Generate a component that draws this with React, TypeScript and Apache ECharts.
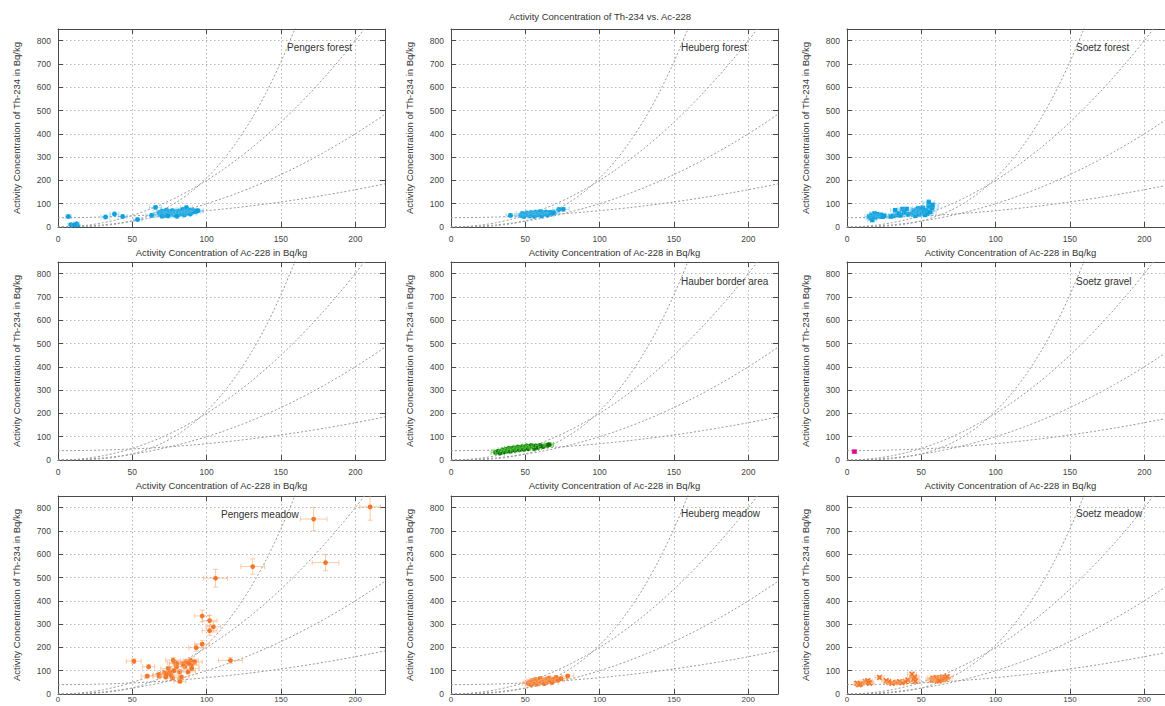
import { useEffect, useRef } from "react";
import * as echarts from "echarts";

// ---- texts -------------------------------------------------------------
const TITLE = "Activity Concentration of Th-234 vs. Ac-228";
const X_NAME = "Activity Concentration of Ac-228 in Bq/kg";
const Y_NAME = "Activity Concentration of Th-234 in Bq/kg";

// ---- axis ranges ---------------------------------------------------------
const X_MIN = 0;
const X_MAX = 220;
const X_STEP = 50;
const Y_MIN = 0;
const Y_MAX = 850;
const Y_STEP = 100;

// ---- reference curves (sampled values) ----------------------------------
const CURVE_A_X = [0, 10, 20, 30, 40, 50, 60, 70, 80, 90, 100, 110, 120, 130, 140, 150, 160];
const CURVE_A_Y = [0, 0.2, 1.7, 5.7, 13.4, 26.3, 45.4, 72, 107.5, 153, 210, 279.5, 363, 461, 576, 709, 860];
const CURVE_B_X = [0, 10, 20, 30, 40, 50, 60, 70, 80, 90, 100, 110, 120, 130, 140, 150, 160, 170, 180, 190, 200, 210];
const CURVE_B_Y = [0, 2, 8, 18, 32, 50, 72, 98, 128, 162, 200, 242, 288, 338, 392, 450, 512, 578, 648, 722, 800, 882];
const CURVE_C_X = [0, 10, 20, 30, 40, 50, 60, 70, 80, 90, 100, 110, 120, 130, 140, 150, 160, 170, 180, 190, 200, 210, 220];
const CURVE_C_Y = [0, 1, 4, 9, 16, 25, 36, 49, 64, 81, 100, 121, 144, 169, 196, 225, 256, 289, 324, 361, 400, 441, 484];
const CURVE_D_X = CURVE_C_X;
const CURVE_D_Y = [40, 40.3, 41.2, 42.7, 44.8, 47.5, 50.8, 54.7, 59.2, 64.3, 70, 76.3, 83.2, 90.7, 98.8, 107.5, 116.8, 126.7, 137.2, 148.3, 160, 172.3, 185.2];

// ---- measurements: [Ac-228, Th-234, error Ac-228, error Th-234] --------
const PENGERS_FOREST = [
  [7, 45, 2, 8], [8.7, 10, 2, 6], [12.5, 14, 2, 6], [13.2, 3, 2, 5], [11, 8, 2, 5],
  [32, 43, 3, 8], [38, 56, 3, 8], [43.5, 45, 3, 8], [53.5, 32, 3, 8], [63, 50, 4, 8], [65.6, 84, 4, 8],
  [68, 62, 4, 8], [69, 55, 4, 8], [70, 68, 4, 8], [71, 58, 4, 8], [72, 50, 4, 8], [72, 64, 4, 8],
  [73, 72, 4, 8], [74, 60, 4, 8], [75, 55, 4, 8], [75, 66, 4, 8], [76, 62, 4, 8], [77, 70, 4, 8],
  [78, 58, 4, 8], [78, 52, 4, 8], [79, 65, 4, 8], [80, 60, 4, 8], [81, 68, 4, 8], [81, 54, 4, 8],
  [82, 62, 4, 8], [83, 70, 4, 8], [83, 57, 4, 8], [84, 76, 4, 8], [85, 62, 4, 8], [85, 52, 4, 8],
  [86, 66, 4, 8], [86.4, 83, 4, 8], [87, 60, 4, 8], [88, 68, 4, 8], [89, 56, 4, 8], [89, 72, 4, 8],
  [90, 64, 4, 8], [91, 70, 4, 8], [92, 66, 4, 8], [93, 68, 4, 8], [94, 70, 4, 8], [70, 46, 4, 8],
  [74, 48, 4, 8], [80, 46, 4, 8],
];
const HEUBERG_FOREST = [
  [40, 50, 3, 8], [47, 50, 4, 8], [48, 58, 4, 8], [49, 45, 4, 8], [50, 55, 4, 8], [51, 60, 4, 8],
  [52, 52, 4, 8], [53, 48, 4, 8], [54, 62, 4, 8], [55, 55, 4, 8], [56, 58, 4, 8], [56, 46, 4, 8],
  [57, 64, 4, 8], [58, 52, 4, 8], [59, 60, 4, 8], [60, 55, 4, 8], [60, 66, 4, 8], [61, 48, 4, 8],
  [62, 62, 4, 8], [63, 56, 4, 8], [64, 64, 4, 8], [65, 52, 4, 8], [66, 60, 4, 8], [67, 63, 4, 8],
  [68, 58, 4, 8], [69, 62, 4, 8], [72.5, 75, 4, 8], [75.5, 76, 4, 8],
];
const SOETZ_FOREST = [
  [15, 45, 3, 8], [16, 38, 3, 8], [16.5, 52, 3, 8], [17, 30, 3, 8], [18, 48, 3, 8], [18.5, 58, 3, 8],
  [19, 42, 3, 8], [20, 55, 3, 8], [21, 50, 3, 8], [22, 46, 3, 8], [23, 52, 3, 8], [24, 44, 3, 8],
  [25, 48, 3, 8], [29.5, 45, 3, 8], [31, 48, 3, 8], [32.4, 72, 3, 8], [34, 52, 3, 8], [35, 58, 3, 8],
  [36, 50, 3, 8], [37.3, 77, 3, 8], [38.5, 62, 3, 8], [40.2, 77, 3, 8], [41, 55, 3, 8], [44, 58, 4, 9],
  [45, 70, 4, 9], [46, 48, 4, 9], [47, 75, 4, 9], [47.5, 62, 4, 9], [48, 80, 4, 9], [48.5, 55, 4, 9],
  [49, 68, 4, 9], [50, 74, 4, 9], [50.5, 60, 4, 9], [51, 82, 4, 9], [52, 66, 4, 9], [52.5, 52, 4, 9],
  [53, 72, 4, 9], [54, 58, 4, 9], [55, 88, 4, 10], [55, 106, 4, 12], [56, 65, 4, 9], [57.2, 81, 4, 10],
  [57.5, 94, 4, 10],
];
const HAUBER_BORDER = [
  [30, 33, 3, 7], [32, 38, 3, 7], [33, 30, 3, 7], [34.8, 43, 3, 7], [36, 36, 3, 7], [37, 45, 3, 7],
  [38, 40, 3, 7], [39, 50, 3, 7], [40, 38, 3, 7], [41, 46, 3, 7], [42, 52, 3, 7], [43, 42, 3, 7],
  [44, 48, 3, 7], [45, 55, 3, 7], [46, 44, 3, 7], [47, 50, 3, 7], [48, 57, 3, 7], [49, 46, 3, 7],
  [50, 53, 3, 7], [51, 60, 3, 7], [52, 49, 3, 7], [53, 56, 3, 7], [54, 62, 3, 7], [55, 57, 3, 7],
  [56, 50, 3, 7], [57, 60, 3, 7], [58, 54, 3, 7], [60, 62, 3, 7], [62, 58, 3, 7], [65, 64, 3, 7],
  [66, 66, 3, 7],
];
const SOETZ_GRAVEL = [[5, 36, 1.5, 6]];
const PENGERS_MEADOW = [
  [210, 803, 7, 57], [172, 751, 9, 50], [180, 564, 9, 35], [131, 547, 8, 33], [106, 497, 8, 38],
  [97, 335, 5, 25], [102, 315, 5, 22], [104.5, 288, 5, 22], [102, 272, 5, 20], [97, 214, 5, 16],
  [93, 199, 5, 15], [116, 144, 8, 12], [51, 141, 5, 10], [61, 117, 4, 9], [60, 77, 4, 7], [68, 77, 4, 7],
  [82, 54, 4, 6], [77, 69, 4, 7], [77.5, 145, 5, 11], [78.6, 134, 5, 10], [86.4, 138, 5, 11],
  [89.3, 144, 5, 11], [92, 138, 5, 11], [85.3, 117, 5, 10], [81.9, 95, 5, 8], [75.2, 95, 5, 8],
  [71.9, 90, 5, 8], [68, 83, 4, 7], [72.5, 73, 4, 7], [74.1, 109, 5, 9], [79.7, 117, 5, 10],
  [89.8, 124, 5, 10], [87.5, 95, 5, 8], [83, 73, 5, 7], [76, 82, 5, 7], [80, 130, 5, 10],
  [84, 128, 5, 10], [88, 132, 5, 10], [90, 110, 5, 9], [73, 86, 4, 7], [78, 100, 5, 8],
];
const HEUBERG_MEADOW = [
  [52, 45, 4, 8], [53, 52, 4, 8], [54, 40, 4, 8], [55, 58, 4, 8], [56, 48, 4, 8], [57, 62, 4, 8],
  [58, 44, 4, 8], [59, 54, 4, 8], [60, 66, 4, 8], [61, 50, 4, 8], [62, 58, 4, 8], [63, 45, 4, 8],
  [64, 62, 4, 8], [65, 54, 4, 8], [66, 68, 4, 8], [67, 58, 4, 8], [68, 50, 4, 8], [69, 64, 4, 8],
  [70.7, 71, 4, 8], [72, 60, 4, 8], [74, 66, 4, 8], [78.5, 77, 4, 8],
];
const SOETZ_MEADOW = [
  [6.7, 46, 2, 7], [8, 40, 2, 7], [9, 44, 2, 7], [12.3, 53, 3, 7], [13.9, 57, 3, 7], [15.2, 46, 3, 7],
  [14.5, 50, 3, 7], [21.9, 71, 3, 8], [26.4, 57, 3, 7], [28, 52, 3, 7], [30.2, 46, 3, 7], [33, 50, 3, 7],
  [35.4, 53, 3, 7], [37, 48, 3, 7], [39.2, 53, 3, 7], [41, 60, 3, 8], [43.7, 85, 3, 9], [44.8, 63, 3, 8],
  [45.5, 72, 3, 8], [46, 55, 3, 8], [57.2, 60, 4, 8], [58, 68, 4, 8], [59, 62, 4, 8], [60, 70, 4, 8],
  [61, 58, 4, 8], [62, 66, 4, 8], [63, 62, 4, 8], [64, 72, 4, 8], [65, 64, 4, 8], [66, 68, 4, 8],
  [67.3, 74, 4, 8], [62, 56, 4, 8],
];

// ---- styling / layout ----------------------------------------------------
const FONT = '"Liberation Sans", Arial, Helvetica, sans-serif';
const COL_LEFT = [58, 451, 847];
const ROW_TOP = [29, 262, 496];
const PLOT_W = 327;
const PLOT_H = 198;

const BLUE = { dot: "#0ea0dc", bar: "rgba(90,190,236,0.45)" };
const GREEN = { dot: "#0a6e10", bar: "rgba(90,200,60,0.75)" };
const PINK = { dot: "#d80a8a", bar: "rgba(230,110,190,0.55)" };
const ORANGE = { dot: "#f3772a", bar: "rgba(247,170,115,0.6)" };

type Panel = {
  label: string;
  data: number[][];
  color: { dot: string; bar: string };
  marker: "circle" | "square" | "cross";
  labelPos: [number, number];
};

// row-major order: forest row, border/gravel row, meadow row
const PANELS: Panel[] = [
  { label: "Pengers forest", data: PENGERS_FOREST, color: BLUE, marker: "circle", labelPos: [287, 47] },
  { label: "Heuberg forest", data: HEUBERG_FOREST, color: BLUE, marker: "circle", labelPos: [681, 47] },
  { label: "Soetz forest", data: SOETZ_FOREST, color: BLUE, marker: "square", labelPos: [1076, 47] },
  { label: "", data: [], color: BLUE, marker: "circle", labelPos: [287, 281] },
  { label: "Hauber border area", data: HAUBER_BORDER, color: GREEN, marker: "circle", labelPos: [681, 281] },
  { label: "Soetz gravel", data: SOETZ_GRAVEL, color: PINK, marker: "square", labelPos: [1076, 281] },
  { label: "Pengers meadow", data: PENGERS_MEADOW, color: ORANGE, marker: "circle", labelPos: [221, 514] },
  { label: "Heuberg meadow", data: HEUBERG_MEADOW, color: ORANGE, marker: "circle", labelPos: [681, 513] },
  { label: "Soetz meadow", data: SOETZ_MEADOW, color: ORANGE, marker: "cross", labelPos: [1076, 513] },
];

const CURVES = [
  [CURVE_A_X, CURVE_A_Y],
  [CURVE_B_X, CURVE_B_Y],
  [CURVE_C_X, CURVE_C_Y],
  [CURVE_D_X, CURVE_D_Y],
];

function errorBarRenderer(color: { dot: string; bar: string }, marker: string) {
  return (_params: any, api: any) => {
    const x = api.value(0);
    const y = api.value(1);
    const dx = api.value(2);
    const dy = api.value(3);
    const c = api.coord([x, y]);
    const l = api.coord([x - dx, y])[0];
    const r = api.coord([x + dx, y])[0];
    const t = api.coord([x, y + dy])[1];
    const b = api.coord([x, y - dy])[1];
    const cap = 2.5;
    const es = { stroke: color.bar, lineWidth: 1 };
    const children: any[] = [
      { type: "line", shape: { x1: l, y1: c[1], x2: r, y2: c[1] }, style: es },
      { type: "line", shape: { x1: c[0], y1: t, x2: c[0], y2: b }, style: es },
      { type: "line", shape: { x1: l, y1: c[1] - cap, x2: l, y2: c[1] + cap }, style: es },
      { type: "line", shape: { x1: r, y1: c[1] - cap, x2: r, y2: c[1] + cap }, style: es },
      { type: "line", shape: { x1: c[0] - cap, y1: t, x2: c[0] + cap, y2: t }, style: es },
      { type: "line", shape: { x1: c[0] - cap, y1: b, x2: c[0] + cap, y2: b }, style: es },
    ];
    if (marker === "square") {
      children.push({ type: "rect", shape: { x: c[0] - 2.2, y: c[1] - 2.2, width: 4.4, height: 4.4 }, style: { fill: color.dot } });
    } else if (marker === "cross") {
      const s = 2.4;
      const ms = { stroke: color.dot, lineWidth: 1.6 };
      children.push({ type: "line", shape: { x1: c[0] - s, y1: c[1] - s, x2: c[0] + s, y2: c[1] + s }, style: ms });
      children.push({ type: "line", shape: { x1: c[0] - s, y1: c[1] + s, x2: c[0] + s, y2: c[1] - s }, style: ms });
    } else {
      children.push({ type: "circle", shape: { cx: c[0], cy: c[1], r: 2.4 }, style: { fill: color.dot } });
    }
    return { type: "group", children };
  };
}

function buildOption() {
  const grid: any[] = [];
  const xAxis: any[] = [];
  const yAxis: any[] = [];
  const series: any[] = [];
  const graphic: any[] = [];

  const frame = { show: true, onZero: false, lineStyle: { color: "#4a4a4a", width: 1 } };
  const tick = { show: true, inside: true, length: 5, lineStyle: { color: "#4a4a4a" } };
  const grid_line = { show: true, lineStyle: { color: "#b8b8b8", type: [1.5, 2.5], width: 1 } };
  const tickLabel = { color: "#444", fontSize: 8.5, fontFamily: FONT, margin: 7, showMaxLabel: false };

  PANELS.forEach((p, i) => {
    const row = Math.floor(i / 3);
    const col = i % 3;
    const bottomRow = row === 2;
    grid.push({
      left: COL_LEFT[col],
      top: ROW_TOP[row],
      width: PLOT_W,
      height: PLOT_H,
      containLabel: false,
      outerBoundsMode: "none",
    });

    const xBase = { type: "value", gridIndex: i, min: X_MIN, max: X_MAX, interval: X_STEP };
    const yBase = { type: "value", gridIndex: i, min: Y_MIN, max: Y_MAX, interval: Y_STEP };

    // the bottom row sits on the page edge: its tick labels are tucked up
    // against the axis and its axis title (below the edge) is left out
    xAxis.push({
      ...xBase,
      position: "bottom",
      name: bottomRow ? "" : X_NAME,
      nameLocation: "middle",
      nameGap: 20,
      nameTextStyle: { color: "#333", fontSize: 9.5, fontFamily: FONT },
      axisLine: frame,
      axisTick: tick,
      axisLabel: bottomRow ? { ...tickLabel, margin: 1, fontSize: 8, lineHeight: 9 } : tickLabel,
      splitLine: grid_line,
    });
    xAxis.push({
      ...xBase,
      position: "top",
      axisLine: frame,
      axisTick: tick,
      axisLabel: { show: false },
      splitLine: { show: false },
    });
    yAxis.push({
      ...yBase,
      position: "left",
      name: Y_NAME,
      nameLocation: "middle",
      nameGap: 37,
      nameTextStyle: { color: "#333", fontSize: 9.5, fontFamily: FONT },
      axisLine: frame,
      axisTick: tick,
      axisLabel: tickLabel,
      splitLine: grid_line,
    });
    yAxis.push({
      ...yBase,
      position: "right",
      axisLine: frame,
      axisTick: tick,
      axisLabel: { show: false },
      splitLine: { show: false },
    });

    CURVES.forEach(([cx, cy]) => {
      series.push({
        type: "line",
        xAxisIndex: 2 * i,
        yAxisIndex: 2 * i,
        data: cx.map((v, k) => [v, cy[k]]),
        showSymbol: false,
        symbol: "none",
        smooth: 0.3,
        clip: true,
        silent: true,
        lineStyle: { color: "#9a9a9a", width: 1, type: [2, 2] },
        z: 2,
      });
    });

    if (p.data.length) {
      series.push({
        type: "custom",
        xAxisIndex: 2 * i,
        yAxisIndex: 2 * i,
        data: p.data,
        encode: { x: 0, y: 1 },
        clip: true,
        renderItem: errorBarRenderer(p.color, p.marker),
        z: 3,
      });
    }

    if (p.label) {
      graphic.push({
        type: "text",
        x: p.labelPos[0],
        y: p.labelPos[1],
        style: {
          text: p.label,
          fill: "#333",
          fontSize: 10,
          fontFamily: FONT,
          align: "left",
          verticalAlign: "middle",
        },
        z: 10,
      });
    }
  });

  graphic.push({
    type: "text",
    x: 600,
    y: 16,
    style: {
      text: TITLE,
      fill: "#333",
      fontSize: 9.5,
      fontFamily: FONT,
      align: "center",
      verticalAlign: "middle",
    },
  });

  return {
    animation: false,
    backgroundColor: "#ffffff",
    textStyle: { fontFamily: FONT },
    grid,
    xAxis,
    yAxis,
    series,
    graphic,
  };
}

export default function App() {
  const ref = useRef<HTMLDivElement>(null);

  useEffect(() => {
    if (!ref.current) return;
    const chart = echarts.init(ref.current, undefined, { renderer: "svg" });
    chart.setOption(buildOption() as any);
    return () => chart.dispose();
  }, []);

  return (
    <div
      ref={ref}
      style={{ position: "fixed", left: 0, top: 0, width: 1165, height: 706, background: "#fff" }}
    />
  );
}
